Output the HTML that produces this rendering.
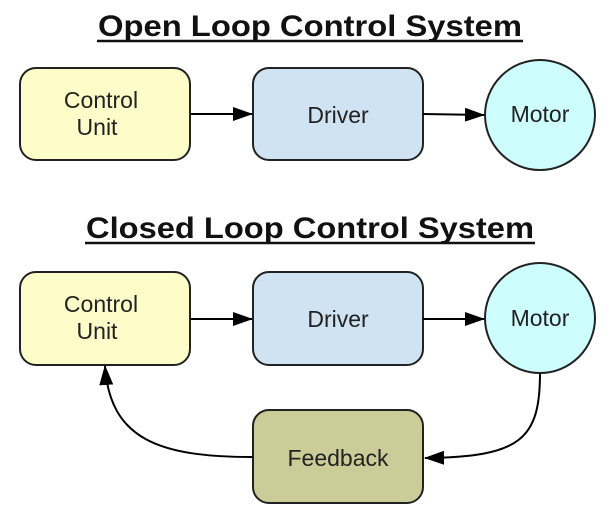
<!DOCTYPE html>
<html><head><style>
body{margin:0;background:#fff;}
svg{display:block;font-family:"Liberation Sans",sans-serif;}
</style></head><body>
<svg width="611" height="518" viewBox="0 0 611 518">
<defs>
<marker id="b" markerWidth="20" markerHeight="14" refX="19" refY="7" orient="auto" markerUnits="userSpaceOnUse"><path d="M0,0 L20,7 L0,14z" fill="#000"/></marker></defs>
<g font-weight="bold" font-size="30" fill="#111">
<text x="98" y="36" textLength="424" lengthAdjust="spacingAndGlyphs">Open Loop Control System</text>
<text x="86" y="238" textLength="448" lengthAdjust="spacingAndGlyphs">Closed Loop Control System</text></g>
<line x1="97" y1="41" x2="523" y2="41" stroke="#111" stroke-width="2.5"/>
<line x1="85" y1="243" x2="535" y2="243" stroke="#111" stroke-width="2.5"/>
<g stroke="#222" stroke-width="2">
<rect x="20" y="68" width="170" height="92" rx="16" fill="#fefcc8"/>
<rect x="253" y="68" width="170" height="92" rx="16" fill="#cfe3f3"/>
<circle cx="540" cy="115" r="55" fill="#cdfdfd"/>
<rect x="20" y="272" width="170" height="93" rx="16" fill="#fefcc8"/>
<rect x="253" y="272" width="170" height="93" rx="16" fill="#cfe3f3"/>
<circle cx="540" cy="318" r="55" fill="#cdfdfd"/>
<rect x="253" y="410" width="170" height="93" rx="16" fill="#cccc99"/>
</g>
<g stroke="#000" stroke-width="2" fill="none">
<line x1="190" y1="114" x2="252" y2="114" marker-end="url(#b)"/>
<line x1="423" y1="114" x2="484" y2="115" marker-end="url(#b)"/>
<line x1="190" y1="319" x2="252" y2="319" marker-end="url(#b)"/>
<line x1="423" y1="319" x2="484" y2="319" marker-end="url(#b)"/>
<path d="M540,373 C540,440 520,457 425,458" marker-end="url(#b)"/>
<path d="M253,457 C160,457 110,440 105,366" marker-end="url(#b)"/>
</g>
<g font-size="23" text-anchor="middle" fill="#222">
<text x="101" y="108">Control</text><text x="97" y="135">Unit</text>
<text x="338" y="123">Driver</text>
<text x="540" y="122">Motor</text>
<text x="101" y="312">Control</text><text x="97" y="339">Unit</text>
<text x="338" y="327">Driver</text>
<text x="540" y="326">Motor</text>
<text x="338" y="466">Feedback</text>
</g>
</svg>
</body></html>
